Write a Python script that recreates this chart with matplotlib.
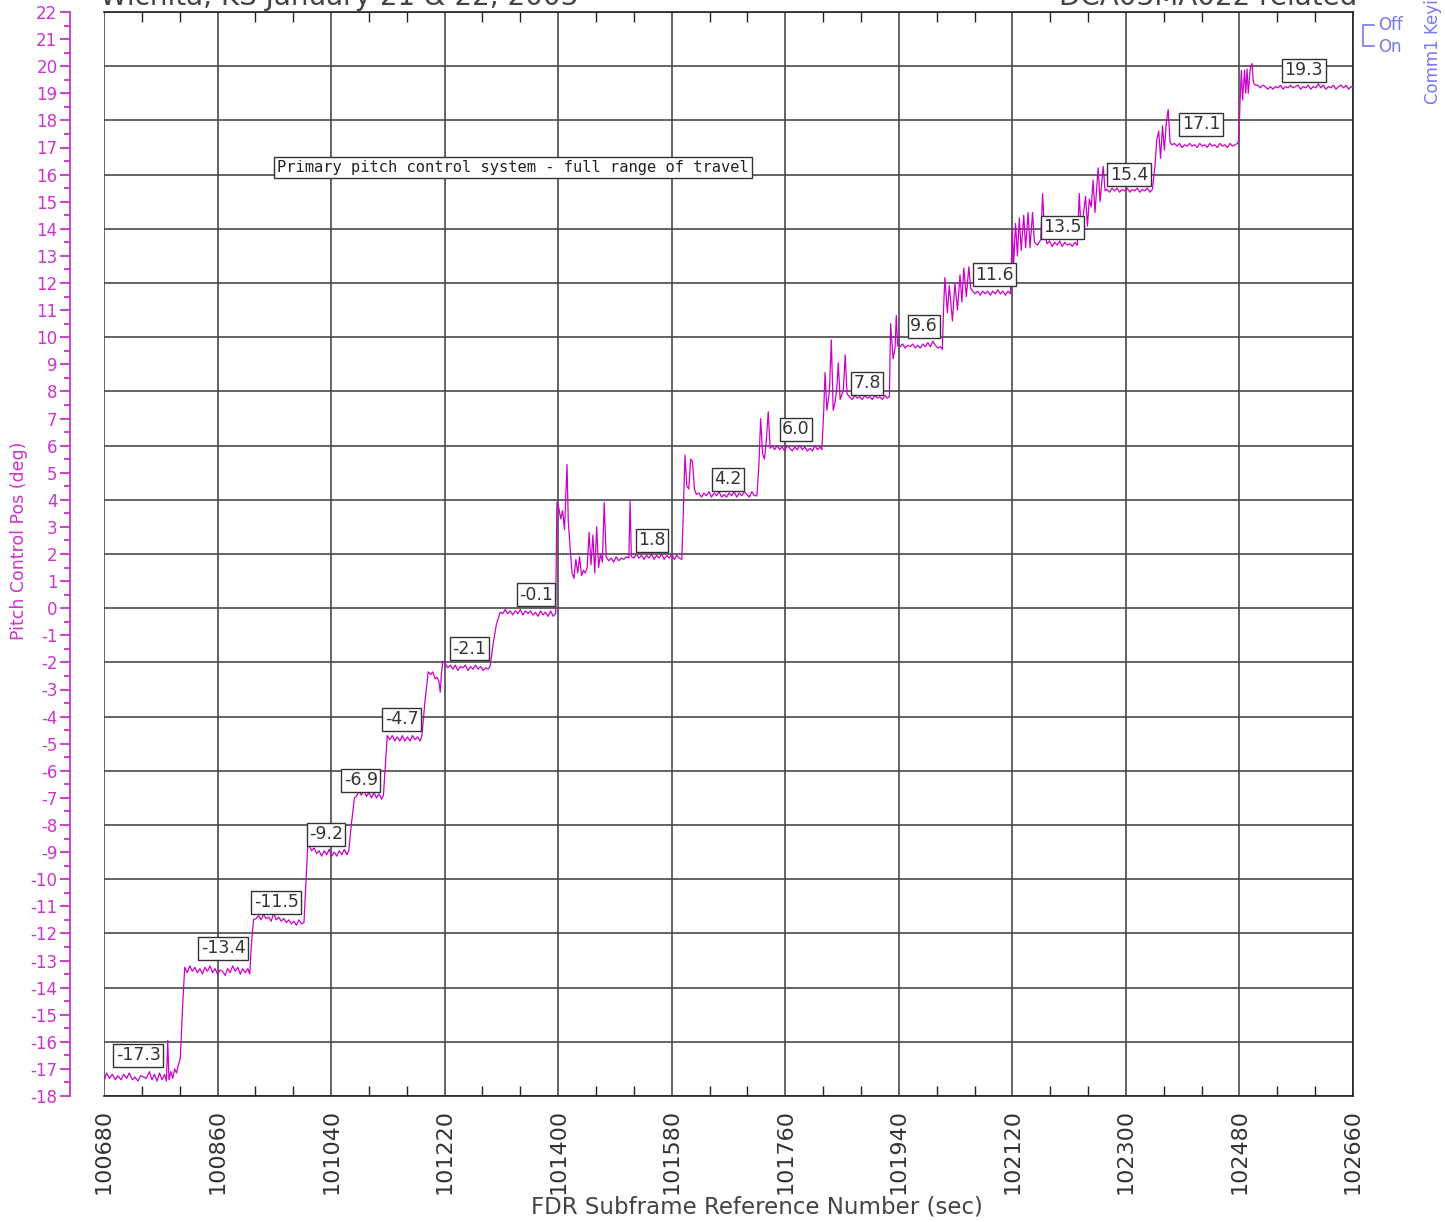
import matplotlib
matplotlib.use("Agg")
import matplotlib.pyplot as plt
from matplotlib.ticker import MultipleLocator, FixedLocator
import numpy as np

plt.rcParams["axes.unicode_minus"] = False
plt.rcParams["font.family"] = ["DejaVu Sans"]

# ------------------------------------------------------------
# Data (time in sec, pitch control pos in deg)
# ------------------------------------------------------------
trace = [
    # -17.3 step
    (100680, -17.45), (100684, -17.15), (100689, -17.35), (100693, -17.2), (100698, -17.4),
    (100702, -17.25), (100707, -17.4), (100711, -17.2), (100716, -17.35), (100720, -17.15),
    (100725, -17.4), (100729, -17.3), (100734, -17.45), (100738, -17.25), (100743, -17.3),
    (100747, -17.35), (100752, -17.1), (100756, -17.4), (100760, -17.2), (100764, -17.45),
    (100768, -17.15), (100772, -17.4), (100776, -17.2), (100779, -17.45), (100781, -15.95),
    (100783, -17.4), (100786, -17.1), (100789, -17.35), (100792, -17.0), (100795, -17.15),
    (100798, -16.85), (100801, -16.6), (100805, -14.5), (100808, -13.25),
    # -13.4 step
    (100812, -13.45), (100816, -13.2), (100820, -13.4), (100824, -13.25), (100828, -13.45),
    (100832, -13.3), (100836, -13.5), (100840, -13.25), (100844, -13.4), (100848, -13.2),
    (100852, -13.45), (100856, -13.3), (100860, -13.5), (100864, -13.35), (100868, -13.4),
    (100872, -13.55), (100876, -13.3), (100880, -13.45), (100884, -13.2), (100888, -13.4),
    (100892, -13.25), (100896, -13.5), (100900, -13.3), (100904, -13.45), (100908, -13.3),
    (100911, -13.5), (100914, -12.3), (100917, -11.5),
    # -11.5 step
    (100921, -11.45), (100925, -11.35), (100929, -11.5), (100933, -11.3), (100937, -11.45),
    (100941, -11.4), (100945, -11.55), (100949, -11.25), (100953, -11.5), (100957, -11.4),
    (100961, -11.55), (100965, -11.45), (100969, -11.6), (100973, -11.5), (100977, -11.65),
    (100981, -11.55), (100985, -11.7), (100989, -11.5), (100993, -11.65), (100997, -11.6),
    (101000, -10.2), (101003, -8.75),
    # -9.2 step
    (101006, -8.8), (101009, -8.95), (101013, -8.85), (101017, -9.05), (101021, -8.95),
    (101025, -9.15), (101029, -8.95), (101033, -9.1), (101037, -8.9), (101041, -9.15),
    (101045, -9.0), (101049, -9.15), (101053, -8.95), (101057, -9.1), (101061, -8.9),
    (101065, -9.1), (101068, -8.95), (101072, -8.0), (101077, -7.0),
    # -6.9 step
    (101080, -6.95), (101084, -6.75), (101088, -6.9), (101092, -6.7), (101096, -6.95),
    (101100, -6.8), (101104, -7.0), (101108, -6.8), (101112, -7.0), (101116, -6.85),
    (101120, -7.05), (101123, -6.9), (101126, -5.8), (101129, -4.7),
    # -4.7 step
    (101133, -4.85), (101137, -4.7), (101141, -4.9), (101145, -4.75), (101149, -4.9),
    (101153, -4.7), (101157, -4.9), (101161, -4.75), (101165, -4.9), (101169, -4.7),
    (101173, -4.85), (101177, -4.75), (101181, -4.9), (101184, -4.7), (101189, -3.4),
    (101194, -2.35), (101198, -2.45), (101201, -2.35), (101205, -2.6), (101208, -2.55),
    (101211, -2.7), (101213, -3.1), (101215, -2.4), (101217, -1.95),
    # -2.1 step
    (101221, -2.05), (101225, -2.2), (101229, -2.1), (101233, -2.25), (101237, -2.1),
    (101241, -2.3), (101245, -2.15), (101249, -2.2), (101253, -2.1), (101257, -2.3),
    (101261, -2.15), (101265, -2.25), (101269, -2.1), (101273, -2.25), (101277, -2.15),
    (101281, -2.3), (101285, -2.2), (101289, -2.25), (101292, -2.15), (101297, -1.3),
    (101302, -0.6), (101308, -0.15),
    # -0.1 step
    (101312, -0.2), (101316, -0.05), (101320, -0.2), (101324, -0.1), (101328, -0.25),
    (101332, -0.1), (101336, -0.2), (101340, -0.05), (101344, -0.25), (101348, -0.1),
    (101352, -0.2), (101356, -0.1), (101360, -0.25), (101364, -0.15), (101368, -0.3),
    (101372, -0.1), (101376, -0.25), (101380, -0.15), (101384, -0.3), (101388, -0.1),
    (101392, -0.3), (101396, -0.2), (101398, 3.9), (101401, 3.7), (101404, 3.3),
    (101407, 3.6), (101410, 2.9), (101414, 5.3), (101416, 3.2), (101419, 2.2),
    (101422, 1.3), (101425, 1.1), (101428, 1.8), (101431, 1.3), (101434, 1.9),
    (101437, 1.2), (101440, 1.4), (101443, 1.3), (101446, 1.5), (101449, 2.8),
    (101452, 1.6), (101455, 2.7), (101458, 1.3), (101461, 3.0), (101464, 1.5),
    (101467, 2.0), (101470, 1.7), (101473, 3.9), (101476, 1.9),
    # 1.8 step
    (101480, 1.75), (101484, 1.85), (101488, 1.7), (101492, 1.9), (101496, 1.75),
    (101500, 1.85), (101504, 1.8), (101508, 1.9), (101512, 1.85), (101514, 3.95),
    (101516, 1.9), (101520, 1.85), (101524, 2.0), (101528, 1.85), (101532, 1.95),
    (101536, 1.8), (101540, 1.95), (101544, 1.85), (101548, 2.0), (101552, 1.8),
    (101556, 1.95), (101560, 1.85), (101564, 2.0), (101568, 1.8), (101572, 1.95),
    (101576, 1.85), (101580, 2.0), (101584, 1.8), (101588, 1.95), (101592, 1.85),
    (101596, 1.8), (101599, 4.0), (101601, 5.65), (101604, 4.5), (101607, 4.4),
    (101610, 5.5), (101613, 5.4), (101616, 4.4), (101619, 4.2),
    # 4.2 step
    (101623, 4.25), (101627, 4.1), (101631, 4.25), (101635, 4.15), (101639, 4.3),
    (101643, 4.1), (101647, 4.25), (101651, 4.15), (101655, 4.3), (101659, 4.1),
    (101663, 4.2), (101667, 4.1), (101671, 4.25), (101675, 4.15), (101679, 4.3),
    (101683, 4.1), (101687, 4.25), (101691, 4.15), (101695, 4.3), (101699, 4.2),
    (101703, 4.1), (101707, 4.3), (101711, 4.15), (101715, 4.15), (101718, 5.2),
    (101721, 7.0), (101724, 5.7), (101727, 5.5), (101730, 6.2), (101733, 7.25),
    (101736, 5.9), (101739, 6.0),
    # 6.0 step
    (101743, 5.85), (101747, 6.0), (101751, 5.85), (101755, 5.95), (101759, 5.8),
    (101763, 6.0), (101767, 5.9), (101771, 5.8), (101775, 5.95), (101779, 5.85),
    (101783, 6.0), (101787, 5.85), (101791, 5.95), (101795, 5.8), (101799, 5.9),
    (101803, 5.8), (101807, 6.0), (101811, 5.85), (101815, 5.95), (101818, 5.85),
    (101821, 7.3), (101823, 8.7), (101826, 7.3), (101830, 8.0), (101833, 9.9),
    (101836, 7.3), (101839, 7.6), (101842, 8.2), (101844, 9.05), (101847, 7.7),
    (101850, 7.9), (101852, 8.0), (101855, 9.35), (101858, 7.9),
    # 7.8 step
    (101862, 7.8), (101866, 7.7), (101870, 7.85), (101874, 7.75), (101878, 7.8),
    (101882, 7.7), (101886, 7.85), (101890, 7.75), (101894, 7.8), (101898, 7.7),
    (101902, 7.85), (101906, 7.75), (101910, 7.8), (101914, 7.7), (101918, 7.85),
    (101922, 7.75), (101925, 7.8), (101927, 10.5), (101931, 9.2), (101934, 9.6),
    (101936, 10.8), (101938, 9.7),
    # 9.6 step
    (101942, 9.65), (101946, 9.75), (101950, 9.6), (101954, 9.7), (101958, 9.65),
    (101962, 9.75), (101966, 9.6), (101970, 9.7), (101974, 9.6), (101978, 9.75),
    (101982, 9.65), (101986, 9.8), (101990, 9.65), (101994, 9.85), (101998, 9.7),
    (102002, 9.6), (102006, 9.65), (102009, 9.55), (102011, 11.1), (102013, 12.2),
    (102017, 10.9), (102020, 11.9), (102025, 10.6), (102029, 12.0), (102033, 11.0),
    (102037, 12.3), (102040, 11.3), (102043, 12.55), (102047, 11.5), (102051, 12.6),
    (102054, 11.8), (102057, 11.7),
    # 11.6 step
    (102061, 11.6), (102065, 11.7), (102069, 11.55), (102073, 11.7), (102077, 11.6),
    (102081, 11.7), (102085, 11.55), (102089, 11.7), (102093, 11.6), (102097, 11.75),
    (102101, 11.6), (102105, 11.7), (102109, 11.55), (102113, 11.7), (102117, 11.6),
    (102120, 13.95), (102122, 12.7), (102125, 14.2), (102128, 13.0), (102131, 14.4),
    (102134, 13.2), (102138, 14.5), (102141, 13.3), (102145, 14.6), (102148, 13.3),
    (102152, 14.6), (102155, 13.5), (102160, 13.4), (102165, 13.6), (102168, 15.3),
    (102171, 13.8),
    # 13.5 step
    (102175, 13.45), (102179, 13.55), (102183, 13.35), (102187, 13.5), (102191, 13.4),
    (102195, 13.55), (102199, 13.35), (102203, 13.5), (102207, 13.4), (102211, 13.45),
    (102215, 13.35), (102219, 13.5), (102223, 13.4), (102226, 15.3), (102229, 13.9),
    (102233, 14.6), (102236, 15.2), (102239, 14.1), (102242, 15.1), (102245, 14.8),
    (102248, 15.8), (102251, 14.6), (102256, 16.25), (102259, 15.0), (102264, 16.3),
    (102267, 15.4), (102270, 15.45),
    # 15.4 step
    (102274, 15.35), (102278, 15.5), (102282, 15.4), (102286, 15.5), (102290, 15.35),
    (102294, 15.45), (102298, 15.4), (102302, 15.5), (102306, 15.35), (102310, 15.45),
    (102314, 15.4), (102318, 15.5), (102322, 15.35), (102326, 15.45), (102330, 15.4),
    (102334, 15.5), (102338, 15.35), (102342, 15.45), (102346, 16.3), (102349, 17.3),
    (102352, 17.6), (102355, 16.6), (102358, 17.8), (102361, 16.9), (102364, 17.9),
    (102367, 18.4), (102370, 17.2), (102373, 17.1),
    # 17.1 step
    (102377, 17.15), (102381, 17.05), (102385, 17.15), (102389, 17.0), (102393, 17.1),
    (102397, 17.05), (102401, 17.15), (102405, 17.05), (102409, 17.1), (102413, 17.0),
    (102417, 17.15), (102421, 17.05), (102425, 17.1), (102429, 17.0), (102433, 17.15),
    (102437, 17.05), (102441, 17.1), (102445, 17.0), (102449, 17.15), (102453, 17.05),
    (102457, 17.1), (102461, 17.0), (102465, 17.15), (102469, 17.05), (102473, 17.1),
    (102477, 17.15), (102479, 17.3), (102481, 18.75), (102483, 19.85), (102485, 18.75),
    (102488, 19.85), (102490, 19.0), (102492, 19.9), (102494, 19.0), (102497, 19.9),
    (102500, 20.1), (102502, 19.4), (102505, 19.3),
    # 19.3 step
    (102509, 19.3), (102513, 19.2), (102517, 19.3), (102521, 19.25), (102525, 19.15),
    (102529, 19.25), (102533, 19.15), (102537, 19.25), (102541, 19.2), (102545, 19.3),
    (102549, 19.15), (102553, 19.25), (102557, 19.2), (102561, 19.3), (102565, 19.2),
    (102569, 19.25), (102573, 19.3), (102577, 19.15), (102581, 19.25), (102585, 19.2),
    (102589, 19.3), (102593, 19.15), (102597, 19.25), (102601, 19.2), (102605, 19.35),
    (102609, 19.2), (102613, 19.3), (102617, 19.15), (102621, 19.25), (102625, 19.2),
    (102629, 19.3), (102633, 19.15), (102637, 19.25), (102641, 19.3), (102645, 19.2),
    (102649, 19.3), (102653, 19.15), (102657, 19.25), (102660, 19.2),
]

# step value call-outs (text, time, deg)
label_text = ["-17.3", "-13.4", "-11.5", "-9.2", "-6.9", "-4.7", "-2.1", "-0.1", "1.8",
              "4.2", "6.0", "7.8", "9.6", "11.6", "13.5", "15.4", "17.1", "19.3"]
label_t = [100734, 100869, 100953, 101032, 101087, 101152, 101259, 101365, 101549,
           101669, 101777, 101890, 101980, 102092, 102199, 102305, 102419, 102582]
label_v = [-16.5, -12.55, -10.85, -8.35, -6.35, -4.1, -1.5, 0.5, 2.5,
           4.75, 6.6, 8.3, 10.4, 12.3, 14.05, 16.0, 17.85, 19.85]

note_text = "Primary pitch control system - full range of travel"
note_t, note_v = 100955, 16.26

x_min, x_max = 100680, 102660
y_min, y_max = -18, 22

LINE = "#cc00cc"
MAG = "#cc33cc"
BLUE = "#7777ee"
GRID = "#4a4a4a"

time_sec = [p[0] for p in trace]
pitch_deg = [p[1] for p in trace]

fig = plt.figure(figsize=(14.45, 12.22), dpi=100)
ax = fig.add_axes([104 / 1445, 1 - 1096 / 1222, 1249 / 1445, 1084 / 1222])

ax.set_xlim(x_min, x_max)
ax.set_ylim(y_min, y_max)

x_major = np.arange(x_min, x_max + 1, 180)

# grid: every 180 s and every 2 deg
for gx in x_major:
    ax.axvline(gx, color=GRID, lw=1.2, zorder=1)
for gy in np.arange(y_min, y_max + 1, 2):
    ax.axhline(gy, color=GRID, lw=1.2, zorder=1)

ax.plot(time_sec, pitch_deg, color=LINE, lw=0.9, zorder=3)

for txt, t, v in zip(label_text, label_t, label_v):
    ax.text(t, v, txt, ha="center", va="center", fontsize=12.5, color="#333333",
            zorder=4, bbox=dict(boxstyle="square,pad=0.14", fc="white", ec="#333333", lw=1.0))

ax.text(note_t, note_v, note_text, ha="left", va="center", fontsize=11.1,
        family="DejaVu Sans Mono", color="#222222", zorder=4,
        bbox=dict(boxstyle="square,pad=0.2", fc="white", ec="#333333", lw=1.0))

# x axis
ax.xaxis.set_major_locator(FixedLocator(x_major))
ax.xaxis.set_minor_locator(FixedLocator(np.arange(x_min, x_max + 1, 60)))
ax.tick_params(axis="x", which="both", direction="in", top=True, bottom=True,
               colors="#222222", labelcolor="#333333")
ax.tick_params(axis="x", which="major", length=0, pad=9, labelsize=16, labelrotation=90)
ax.tick_params(axis="x", which="minor", length=7, width=1)
ax.set_xlabel("FDR Subframe Reference Number (sec)", fontsize=16.5, color="#444444")
ax.xaxis.set_label_coords((757 - 104) / 1249, (1096 - 1196) / 1084)

# y axis on an offset magenta spine
ax.spines["left"].set_position(("outward", 24.5))
ax.spines["left"].set_color(MAG)
ax.spines["left"].set_linewidth(1.3)
ax.yaxis.set_major_locator(MultipleLocator(1))
ax.yaxis.set_minor_locator(MultipleLocator(0.5))
ax.tick_params(axis="y", which="both", direction="out", left=True, right=False,
               colors=MAG, labelcolor=MAG)
ax.tick_params(axis="y", which="major", length=7, width=1.3, labelsize=12, pad=2)
ax.tick_params(axis="y", which="minor", length=4, width=1.3)
ax.set_ylabel("Pitch Control Pos (deg)", fontsize=12.5, color=MAG)
ax.yaxis.set_label_coords((28 - 104) / 1249, (1096 - 541) / 1084)

for side in ["top", "bottom", "right"]:
    ax.spines[side].set_color("#222222")
    ax.spines[side].set_linewidth(1.2)

# titles that run off the top of the page
fig.text(100 / 1445, 1 - 5 / 1222, "Wichita, KS January 21 & 22, 2003", ha="left",
         va="baseline", fontsize=20, color="#444444")
fig.text(1357 / 1445, 1 - 5 / 1222, "DCA03MA022 related", ha="right",
         va="baseline", fontsize=20, color="#444444")

# discrete channel key on the right
fig.lines.append(plt.Line2D([1374 / 1445, 1363 / 1445, 1363 / 1445, 1374 / 1445],
                            [1 - 25 / 1222, 1 - 25 / 1222, 1 - 46 / 1222, 1 - 46 / 1222],
                            transform=fig.transFigure, color=BLUE, lw=1.2))
fig.text(1378 / 1445, 1 - 25 / 1222, "Off", ha="left", va="center", fontsize=12, color=BLUE)
fig.text(1378 / 1445, 1 - 47 / 1222, "On", ha="left", va="center", fontsize=12, color=BLUE)
fig.text(1433 / 1445, 1 - 104 / 1222, "Comm1 Keyin", rotation=90, ha="center",
         va="bottom", fontsize=12, color=BLUE)

fig.savefig("out.png", dpi=100)
